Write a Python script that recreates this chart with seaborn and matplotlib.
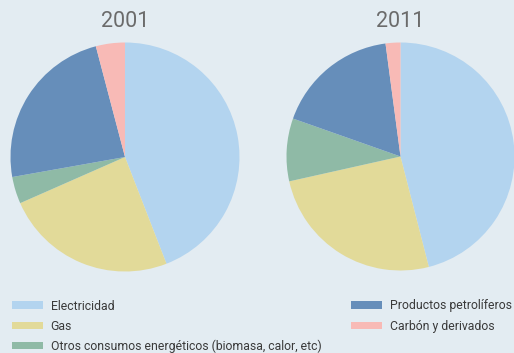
import matplotlib
matplotlib.use("Agg")
import matplotlib.pyplot as plt
import seaborn as sns
from matplotlib.patches import Patch

categories = ["Electricidad", "Gas", "Otros consumos energéticos (biomasa, calor, etc)",
              "Productos petrolíferos", "Carbón y derivados"]
values_2001 = [44.1, 24.3, 3.8, 23.7, 4.1]
values_2011 = [46.0, 25.5, 8.9, 17.5, 2.1]
years = ["2001", "2011"]
colors = ["#b3d4ef", "#e2da99", "#8fbaa6", "#668eba", "#f8bab6"]

sns.set_theme(style="white")
plt.rcParams['font.family'] = ['Roboto', 'DejaVu Sans']

W, H = 514, 353
bg = "#e3ecf2"
fig = plt.figure(figsize=(W / 100, H / 100), dpi=100, facecolor=bg)

palette = sns.color_palette(colors)

def add_pie(cx, cy, r, vals, title):
    ax = fig.add_axes([(cx - r) / W, (H - cy - r) / H, 2 * r / W, 2 * r / H])
    ax.set_facecolor(bg)
    ax.pie(vals, colors=palette, startangle=90, counterclock=False, radius=1,
           wedgeprops=dict(linewidth=0))
    ax.set_xlim(-1, 1)
    ax.set_ylim(-1, 1)
    ax.set_aspect("auto")
    ax.axis("off")
    fig.text(cx / W, 1 - 21.5 / H, title, ha="center", va="center",
             fontsize=15.5, fontweight="normal", color="#6b6b6b")

add_pie(125, 157, 114.5, values_2001, years[0])
add_pie(400.5, 156.5, 114.0, values_2011, years[1])

handles = [Patch(facecolor=c, edgecolor="none") for c in colors]
leg_kw = dict(frameon=False, fontsize=8.8, handlelength=2.55, handleheight=0.55,
              handletextpad=0.62, labelspacing=0.58, borderpad=0, borderaxespad=0,
              labelcolor="#3a3a3a")
l1 = fig.legend(handles[:3], categories[:3], loc="upper left",
                bbox_to_anchor=(12 / W, 1 - 299.5 / H), **leg_kw)
l2 = fig.legend(handles[3:], categories[3:], loc="upper left",
                bbox_to_anchor=(351 / W, 1 - 299.5 / H), **leg_kw)

fig.savefig("out.png", dpi=100, facecolor=bg)
